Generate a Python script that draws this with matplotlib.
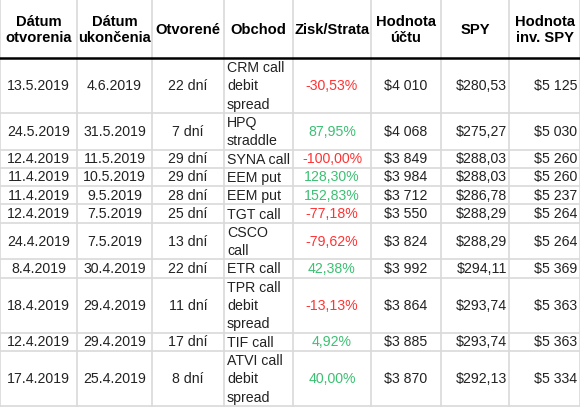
import matplotlib.pyplot as plt

plt.rcParams['font.family'] = ['Liberation Sans', 'DejaVu Sans']

headers = ["Dátum\notvorenia", "Dátum\nukončenia", "Otvorené", "Obchod",
           "Zisk/Strata", "Hodnota\núčtu", "SPY", "Hodnota\ninv. SPY"]
opened = ["13.5.2019", "24.5.2019", "12.4.2019", "11.4.2019", "11.4.2019", "12.4.2019",
          "24.4.2019", "8.4.2019", "18.4.2019", "12.4.2019", "17.4.2019"]
closed = ["4.6.2019", "31.5.2019", "11.5.2019", "10.5.2019", "9.5.2019", "7.5.2019",
          "7.5.2019", "30.4.2019", "29.4.2019", "29.4.2019", "25.4.2019"]
days = [22, 7, 29, 29, 28, 25, 13, 22, 11, 17, 8]
trades = ["CRM call\ndebit\nspread", "HPQ\nstraddle", "SYNA call", "EEM put", "EEM put",
          "TGT call", "CSCO\ncall", "ETR call", "TPR call\ndebit\nspread", "TIF call",
          "ATVI call\ndebit\nspread"]
pnl = [-30.53, 87.95, -100.00, 128.30, 152.83, -77.18, -79.62, 42.38, -13.13, 4.92, 40.00]
account = [4010, 4068, 3849, 3984, 3712, 3550, 3824, 3992, 3864, 3885, 3870]
spy = [280.53, 275.27, 288.03, 288.03, 286.78, 288.29, 288.29, 294.11, 293.74, 293.74, 292.13]
inv_spy = [5125, 5030, 5260, 5260, 5237, 5264, 5264, 5369, 5363, 5363, 5334]

# column edges in pixels
col_x = [0, 77, 152, 224, 293, 371, 441, 509, 580]
header_h = 58
line_h = 18.3
fs = 10.2

red = "#ff3333"
green = "#3cc073"
txt = "#222222"
grid = "#d9d9d9"


def money(v):
    return "$" + f"{v:,}".replace(",", " ")


def dec(v):
    return f"{v:.2f}".replace(".", ",")


fig = plt.figure(figsize=(5.8, 4.09), dpi=100)
ax = fig.add_axes([0, 0, 1, 1])
ax.set_xlim(0, 580)
ax.set_ylim(409, 0)
ax.axis("off")

# header
for i, h in enumerate(headers):
    cx = (col_x[i] + col_x[i + 1]) / 2
    ax.text(cx, header_h / 2 + 1, h, ha="center", va="center", fontsize=10.6,
            fontweight="bold", color="black", linespacing=1.25)

y = header_h
row_edges = [y]
for r in range(len(opened)):
    n = trades[r].count("\n") + 1
    h = n * line_h
    cy = y + h / 2 + 0.5
    vals = [opened[r], closed[r], f"{days[r]} dní"]
    for i, v in enumerate(vals):
        cx = (col_x[i] + col_x[i + 1]) / 2
        ax.text(cx, cy, v, ha="center", va="center", fontsize=fs, color=txt)
    ax.text(col_x[3] + 3, cy + 0.5, trades[r], ha="left", va="center", fontsize=fs,
            color=txt, linespacing=1.4)
    ax.text((col_x[4] + col_x[5]) / 2, cy, dec(pnl[r]) + "%", ha="center", va="center",
            fontsize=fs, color=red if pnl[r] < 0 else green)
    ax.text((col_x[5] + col_x[6]) / 2, cy, money(account[r]), ha="center", va="center",
            fontsize=fs, color=txt)
    ax.text(col_x[7] - 2, cy, "$" + dec(spy[r]), ha="right", va="center",
            fontsize=fs, color=txt)
    ax.text(col_x[8] - 3, cy, money(inv_spy[r]), ha="right", va="center",
            fontsize=fs, color=txt)
    y += h
    row_edges.append(y)

# grid
for x in col_x:
    ax.plot([x, x], [0, row_edges[-1]], color=grid, lw=1.2, zorder=0)
for ry in row_edges[1:]:
    ax.plot([0, 580], [ry, ry], color=grid, lw=1.2, zorder=0)
ax.plot([0, 580], [header_h, header_h], color="black", lw=1.8, zorder=1)

fig.savefig("out.png", dpi=100)
